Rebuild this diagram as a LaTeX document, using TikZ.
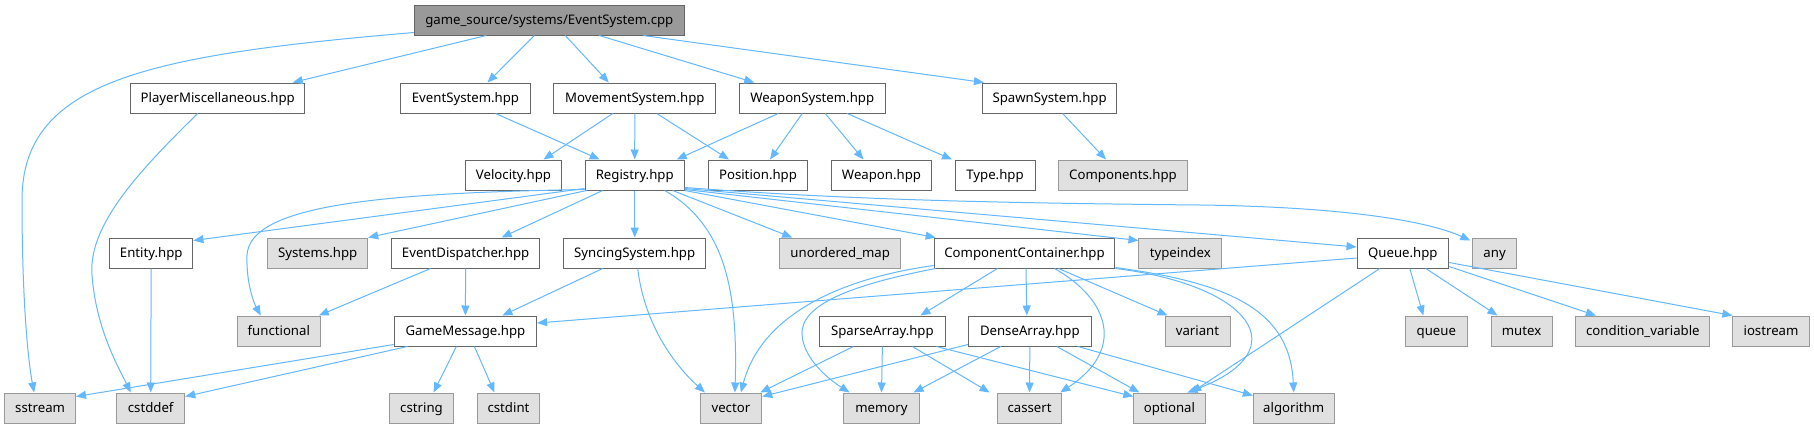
\documentclass[tikz,border=0pt]{standalone}
\usepackage{fontspec}
\setmainfont{Noto Sans}
\usetikzlibrary{arrows.meta}
\definecolor{edgecol}{HTML}{63B8FF}
\definecolor{nodeborder}{HTML}{666666}
\definecolor{grayborder}{HTML}{999999}
\definecolor{grayfill}{HTML}{E0E0E0}
\definecolor{rootfill}{HTML}{999999}
\definecolor{rootborder}{HTML}{666666}
\newcommand{\dgfont}{\fontsize{13.2}{16}\selectfont}
\tikzset{
  basebox/.style={draw, line width=1pt, minimum height=30pt, inner sep=0pt, text height=12pt, text depth=3pt, font=\dgfont},
  wnode/.style={basebox, draw=nodeborder, fill=white},
  gnode/.style={basebox, draw=grayborder, fill=grayfill},
  rnode/.style={basebox, draw=rootborder, fill=rootfill},
  dep/.style={draw=edgecol, line width=1pt, -{Triangle[length=10pt,width=8pt]}},
}
\begin{document}
\begin{tikzpicture}[x=1pt,y=-1pt]
\useasboundingbox (0,0) rectangle (1814,429);
\fill[white] (0,0) rectangle (1814,429);
% row 1
\node[rnode, minimum width=270pt] (root) at (549.3,20) {game\_source/systems/EventSystem.cpp};
% row 2
\node[wnode, minimum width=174.4pt] (pm) at (217.7,98) {PlayerMiscellaneous.hpp};
\node[wnode, minimum width=129.7pt] (esh) at (465.5,98) {EventSystem.hpp};
\node[wnode, minimum width=162.3pt] (msh) at (634.8,98) {MovementSystem.hpp};
\node[wnode, minimum width=145.9pt] (wsh) at (812.2,98) {WeaponSystem.hpp};
\node[wnode, minimum width=134.4pt] (ssh) at (1049.6,98) {SpawnSystem.hpp};
% row 3
\node[wnode, minimum width=96pt] (vel) at (513.5,175) {Velocity.hpp};
\node[wnode, minimum width=99pt] (reg) at (634.7,175) {Registry.hpp};
\node[wnode, minimum width=98.5pt] (pos) at (758,175) {Position.hpp};
\node[wnode, minimum width=100.4pt] (wea) at (881.5,175) {Weapon.hpp};
\node[wnode, minimum width=80pt] (typ) at (995,175) {Type.hpp};
\node[gnode, minimum width=128.5pt] (cmp) at (1123,175) {Components.hpp};
% row 4
\node[wnode, minimum width=83.5pt] (ent) at (151.2,253) {Entity.hpp};
\node[gnode, minimum width=100pt] (sys) at (317.7,253) {Systems.hpp};
\node[wnode, minimum width=148.2pt] (ed) at (465.6,253) {EventDispatcher.hpp};
\node[wnode, minimum width=142.5pt] (sync) at (634.7,253) {SyncingSystem.hpp};
\node[gnode, minimum width=120.6pt] (umap) at (840.2,253) {unordered\_map};
\node[wnode, minimum width=180.7pt] (cc) at (1024.5,253) {ComponentContainer.hpp};
\node[gnode, minimum width=82.7pt] (tix) at (1180.3,253) {typeindex};
\node[wnode, minimum width=91.6pt] (que) at (1402.8,253) {Queue.hpp};
\node[gnode, minimum width=43.5pt] (any) at (1494.6,253) {any};
% row 5
\node[gnode, minimum width=83pt] (fun) at (278.8,331) {functional};
\node[wnode, minimum width=142.4pt] (gm) at (465.4,331) {GameMessage.hpp};
\node[wnode, minimum width=125.7pt] (sa) at (882.4,331) {SparseArray.hpp};
\node[wnode, minimum width=122.6pt] (da) at (1029.8,331) {DenseArray.hpp};
\node[gnode, minimum width=65pt] (var) at (1197.5,331) {variant};
\node[gnode, minimum width=61.4pt] (qu) at (1436.3,331) {queue};
\node[gnode, minimum width=61pt] (mut) at (1521.5,331) {mutex};
\node[gnode, minimum width=133.9pt] (cv) at (1642.9,331) {condition\_variable};
\node[gnode, minimum width=76.3pt] (ios) at (1771,331) {iostream};
% row 6
\node[gnode, minimum width=70.8pt] (sst) at (40.1,408) {sstream};
\node[gnode, minimum width=68.1pt] (cdf) at (150.7,408) {cstddef};
\node[gnode, minimum width=64pt] (cstr) at (421.5,408) {cstring};
\node[gnode, minimum width=62.4pt] (cint) at (508.5,408) {cstdint};
\node[gnode, minimum width=61.7pt] (vec) at (730.9,408) {vector};
\node[gnode, minimum width=75.1pt] (mem) at (881.5,408) {memory};
\node[gnode, minimum width=64.4pt] (cas) at (1029.6,408) {cassert};
\node[gnode, minimum width=71.2pt] (opt) at (1169.4,408) {optional};
\node[gnode, minimum width=80.7pt] (alg) at (1293.7,408) {algorithm};

% root edges
\draw[dep] ([yshift=3pt]root.south west) .. controls (150,55) and (22,80) .. (22,200) .. controls (22,300) and (28,360) .. ([xshift=-6pt]sst.north);
\draw[dep] ([xshift=-63pt]root.south) -- ([xshift=75pt]pm.north);
\draw[dep] ([xshift=-15pt]root.south) -- ([xshift=22pt]esh.north);
\draw[dep] ([xshift=16pt]root.south) -- ([xshift=-26pt]msh.north);
\draw[dep] ([xshift=50pt]root.south) -- ([xshift=-58pt]wsh.north);
\draw[dep] ([xshift=94pt]root.south) -- ([xshift=2pt]ssh.north west);
% row 2 edges
\draw[dep] ([xshift=-20pt]pm.south) .. controls (140,170) and (88,225) .. (92,275) .. controls (96,330) and (120,370) .. ([xshift=-20pt]cdf.north);
\draw[dep] ([xshift=30pt]esh.south) -- ([xshift=-35pt]reg.north);
\draw[dep] ([xshift=-22pt]msh.south) -- ([xshift=30pt]vel.north);
\draw[dep] (msh.south) -- (reg.north);
\draw[dep] ([xshift=22pt]msh.south) -- ([xshift=-29pt]pos.north);
\draw[dep] ([xshift=-34pt]wsh.south) -- ([xshift=42pt]reg.north);
\draw[dep] ([xshift=-10pt]wsh.south) -- ([xshift=12pt]pos.north);
\draw[dep] ([xshift=13pt]wsh.south) -- ([xshift=-18pt]wea.north);
\draw[dep] ([xshift=35pt]wsh.south) -- ([xshift=-43pt]typ.north);
\draw[dep] ([xshift=13pt]ssh.south) -- ([xshift=-17pt]cmp.north);
% registry edges
\draw[dep] ([yshift=1pt]reg.south west) .. controls (380,193) and (250,205) .. (247,255) .. controls (246,285) and (255,305) .. ([xshift=-18pt]fun.north);
\draw[dep] ([yshift=2pt]reg.south west) -- ([yshift=-3pt]ent.north east);
\draw[dep] ([xshift=2pt]reg.south west) -- (sys.north east);
\draw[dep] ([xshift=-32pt]reg.south) -- ([xshift=36pt]ed.north);
\draw[dep] (reg.south) -- (sync.north);
\draw[dep] ([xshift=30pt]reg.south) .. controls (725,225) and (738,290) .. ([xshift=4pt]vec.north);
\draw[dep] ([xshift=38pt]reg.south) -- ([xshift=-48pt]umap.north);
\draw[dep] (reg.south east) -- ([xshift=2pt]cc.north west);
\draw[dep] ([yshift=1pt]reg.south east) -- ([yshift=-3pt]tix.north west);
\draw[dep] ([yshift=2pt]reg.south east) -- ([yshift=6pt]que.west);
\draw[dep] ([yshift=3pt]reg.south east) .. controls (850,200) and (1000,203) .. (1200,205) .. controls (1350,207) and (1430,222) .. ([xshift=-2pt,yshift=-3pt]any.north west);
% queue edges
\draw[dep] ([yshift=-5pt]que.west) -- ([yshift=8pt]gm.east);
\draw[dep] ([xshift=-23pt]que.south) -- ([xshift=22pt]opt.north);
\draw[dep] ([xshift=7pt]que.south) -- ([xshift=-13pt]qu.north);
\draw[dep] ([xshift=23pt]que.south) -- ([xshift=-24pt]mut.north);
\draw[dep] ([yshift=2pt]que.south east) -- ([xshift=-47pt]cv.north);
\draw[dep] ([yshift=6pt]que.south east) -- (ios.north west);
% event dispatcher / syncing / entity
\draw[dep] ([xshift=-35pt]ed.south) -- ([xshift=-2pt]fun.north east);
\draw[dep] (ed.south) -- (gm.north);
\draw[dep] ([xshift=-32pt]sync.south) -- ([xshift=37pt]gm.north);
\draw[dep] ([xshift=3pt]sync.south) .. controls (645,330) and (680,370) .. ([xshift=-26pt]vec.north);
\draw[dep] (ent.south) -- (cdf.north);
% component container edges
\draw[dep] ([yshift=3pt]cc.south west) .. controls (830,280) and (760,320) .. ([xshift=10pt]vec.north);
\draw[dep] ([xshift=2pt]cc.south west) .. controls (850,285) and (800,305) .. (802,335) .. controls (804,360) and (830,380) .. ([xshift=-32pt]mem.north);
\draw[dep] ([xshift=-27pt]cc.south) -- ([xshift=38pt]sa.north);
\draw[dep] ([xshift=1.5pt]cc.south) -- ([xshift=-3pt]da.north);
\draw[dep] ([xshift=30pt]cc.south) .. controls (1110,300) and (1125,350) .. ([xshift=-2pt]cas.north east);
\draw[dep] ([xshift=34pt]cc.south) -- ([xshift=3pt]var.north west);
\draw[dep] (cc.south east) .. controls (1250,285) and (1300,350) .. ([xshift=18pt]opt.north);
\draw[dep] ([yshift=1pt]cc.south east) .. controls (1230,283) and (1290,310) .. (alg.north);
% sparse array edges
\draw[dep] ([xshift=-29pt]sa.south) -- ([xshift=-2pt]vec.north east);
\draw[dep] (sa.south) -- (mem.north);
\draw[dep] ([xshift=30pt]sa.south) -- ([xshift=-40pt]cas.north);
\draw[dep] ([xshift=54pt]sa.south) -- ([yshift=-4pt]opt.north west);
% dense array edges
\draw[dep] ([yshift=2pt]da.south west) -- ([yshift=-4pt]vec.north east);
\draw[dep] ([xshift=-29pt]da.south) -- ([xshift=-6pt]mem.north east);
\draw[dep] (da.south) -- (cas.north);
\draw[dep] ([xshift=27pt]da.south) -- ([xshift=-30pt]opt.north);
\draw[dep] ([xshift=48pt]da.south) -- ([yshift=-3pt]alg.north west);
% game message edges
\draw[dep] ([yshift=2pt]gm.south west) -- ([yshift=-4pt]sst.north east);
\draw[dep] ([xshift=-58pt]gm.south) -- ([yshift=-4pt]cdf.north east);
\draw[dep] ([xshift=-9pt]gm.south) -- ([xshift=12pt]cstr.north);
\draw[dep] ([xshift=9pt]gm.south) -- ([xshift=-14pt]cint.north);
\end{tikzpicture}
\end{document}
